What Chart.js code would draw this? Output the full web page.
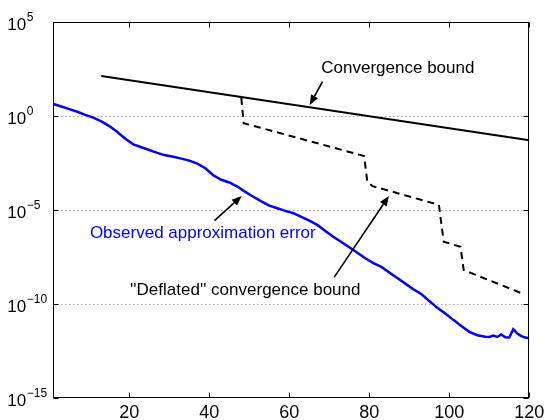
<!DOCTYPE html>
<html><head><meta charset="utf-8">
<script src="https://cdn.jsdelivr.net/npm/chart.js@4"></script>
<style>html,body{margin:0;padding:0;background:#fff}</style>
</head><body>
<canvas id="c" width="547" height="420"></canvas>
<script>
// ---- data ----
const errX = [1,3,5,7,9,11,13,15,17,19,21,23,25,27,29,31,33,35,37,39,41,43,45,47,49,51,53,55,57,59,61,63,65,67,69,71,73,75,77,79,81,83,85,87,89,91,93,95,97,99,101,103,105,107,109,110,111,112,113,114,115,116,117,118,119,120];
const errY = [4.17,3.09,2.24,1.62,1.10,0.79,0.50,0.28,0.135,0.060,0.030,0.021,0.015,0.0105,0.0078,0.0066,0.0052,0.0041,0.0028,0.0016,6.8e-4,3.9e-4,2.8e-4,1.7e-4,8.9e-5,4.9e-5,2.8e-5,1.66e-5,1.2e-5,8.7e-6,6.5e-6,4.1e-6,2.6e-6,1.55e-6,7.4e-7,3.6e-7,1.9e-7,1.0e-7,5.1e-8,2.6e-8,1.45e-8,9.1e-9,4.6e-9,2.3e-9,1.17e-9,5.9e-10,3.3e-10,1.38e-10,6.0e-11,3.0e-11,1.38e-11,6.6e-12,3.2e-12,2.1e-12,1.74e-12,1.7e-12,2.0e-12,1.7e-12,2.3e-12,1.62e-12,1.58e-12,4.4e-12,2.6e-12,1.9e-12,1.58e-12,1.45e-12];
const boundX = [13,120];
const boundY = [129,0.049];
const deflX = [48,48.6,78.7,79.5,80.8,97.4,98.6,102.8,103.6,118.2];
const deflY = [8.9,0.40,7.2e-3,3.1e-4,1.8e-4,1.8e-5,2.0e-7,1.07e-7,6.2e-9,3.5e-10];
const xTicks = [20,40,60,80,100,120];
const yTicks = [1e-15,1e-10,1e-5,1e0,1e5];
const yTickBase = '10';
const yTickExps = ['\u221215','\u221210','\u22125','0','5'];
const noteText = ['Convergence bound','Observed approximation error',"''Deflated'' convergence bound"];
const noteX = [68.0,10.15,20.2];
const noteY = [331,5.5e-7,4.9e-10];
const arrowFromX = [68.3,41.3,71.2];
const arrowFromY = [64.6,2.6e-6,2.5e-9];
const arrowToX = [65.1,48.1,84.9];
const arrowToY = [3.7,5.4e-5,5.4e-5];

const FONT = '"Liberation Sans", Arial, Helvetica, sans-serif';
const noteColor = ['#000000','#0000ff','#000000'];

const pts = (xs, ys) => xs.map((v,i)=>({x:v,y:ys[i]}));

const framePlugin = {
  id:'frame',
  beforeDatasetsDraw(chart){
    const {ctx, chartArea:a, scales:{x,y}} = chart;
    ctx.save();
    ctx.strokeStyle = '#8c8c8c'; ctx.lineWidth = 1; ctx.setLineDash([1,3]);
    yTicks.slice(1,-1).forEach(v=>{
      const py = Math.round(y.getPixelForValue(v)) + 0.5;
      ctx.beginPath(); ctx.moveTo(a.left, py); ctx.lineTo(a.right, py); ctx.stroke();
    });
    ctx.restore();
  },
  afterDatasetsDraw(chart){
    const {ctx, chartArea:a, scales:{x,y}} = chart;
    ctx.save();
    ctx.strokeStyle = '#000'; ctx.lineWidth = 1; ctx.setLineDash([]);
    const L = Math.round(a.left)+0.5, R = Math.round(a.right)-0.5, T = Math.round(a.top)+0.5, B = Math.round(a.bottom)-0.5;
    ctx.strokeRect(L, T, R-L, B-T);
    const tl = 5;
    ctx.beginPath();
    xTicks.forEach(v=>{
      const px = Math.round(x.getPixelForValue(v)) + 0.5;
      ctx.moveTo(px, B); ctx.lineTo(px, B-tl);
      ctx.moveTo(px, T); ctx.lineTo(px, T+tl);
    });
    yTicks.forEach(v=>{
      const py = Math.round(y.getPixelForValue(v)) + 0.5;
      ctx.moveTo(L, py); ctx.lineTo(L+tl, py);
      ctx.moveTo(R, py); ctx.lineTo(R-tl, py);
    });
    ctx.stroke();
    // y tick labels: 10 with superscript exponent
    ctx.fillStyle = '#000';
    ctx.textAlign = 'left'; ctx.textBaseline = 'alphabetic';
    yTicks.forEach((v,i)=>{
      const py = y.getPixelForValue(v);
      ctx.font = '17px ' + FONT;
      const bx = 7.3;
      ctx.fillText(yTickBase, bx, py + 8.3);
      const w = ctx.measureText(yTickBase).width;
      ctx.font = '12px ' + FONT;
      ctx.fillText(yTickExps[i], bx + w + 0.5, py - 1);
    });
    // annotations
    ctx.font = '17px ' + FONT;
    ctx.textAlign = 'left'; ctx.textBaseline = 'middle';
    noteText.forEach((t,i)=>{
      ctx.fillStyle = noteColor[i];
      ctx.fillText(t, x.getPixelForValue(noteX[i]), y.getPixelForValue(noteY[i]));
    });
    ctx.fillStyle = '#000'; ctx.strokeStyle = '#000'; ctx.lineWidth = 1.6;
    arrowFromX.forEach((fx,i)=>{
      const x0 = x.getPixelForValue(fx), y0 = y.getPixelForValue(arrowFromY[i]);
      const x1 = x.getPixelForValue(arrowToX[i]), y1 = y.getPixelForValue(arrowToY[i]);
      const ang = Math.atan2(y1-y0, x1-x0);
      const hl = 10, hw = 4;
      const bx = x1 - hl*Math.cos(ang), by = y1 - hl*Math.sin(ang);
      ctx.beginPath(); ctx.moveTo(x0,y0); ctx.lineTo(bx,by); ctx.stroke();
      ctx.beginPath();
      ctx.moveTo(x1,y1);
      ctx.lineTo(bx + hw*Math.sin(ang), by - hw*Math.cos(ang));
      ctx.lineTo(bx - hw*Math.sin(ang), by + hw*Math.cos(ang));
      ctx.closePath(); ctx.fill();
    });
    ctx.restore();
  }
};

new Chart(document.getElementById('c'), {
  type:'line',
  data:{
    datasets:[
      {label:'Observed approximation error', data:pts(errX,errY), borderColor:'#0000ff', borderWidth:2.5, pointRadius:0, tension:0, fill:false},
      {label:'Convergence bound', data:pts(boundX,boundY), borderColor:'#000000', borderWidth:2, pointRadius:0, tension:0, fill:false},
      {label:'Deflated convergence bound', data:pts(deflX,deflY), borderColor:'#000000', borderWidth:2, borderDash:[7,5], pointRadius:0, tension:0, fill:false}
    ]
  },
  options:{
    responsive:false, animation:false, devicePixelRatio:1,
    layout:{padding:{left:7, right:17.7, top:21.7, bottom:0}},
    plugins:{legend:{display:false}, tooltip:{enabled:false}},
    scales:{
      x:{
        type:'linear', min:1, max:120,
        afterBuildTicks(s){ s.ticks = xTicks.map(v=>({value:v})); },
        afterFit(s){ s.height = 22.3; },
        grid:{display:false}, border:{display:false},
        ticks:{color:'#000', font:{family:FONT, size:18}, padding:-3.5, maxRotation:0, autoSkip:false}
      },
      y:{
        type:'logarithmic', min:1e-15, max:1e5,
        afterBuildTicks(s){ s.ticks = yTicks.map(v=>({value:v})); },
        afterFit(s){ s.width = 46.3; },
        grid:{display:false}, border:{display:false},
        ticks:{display:false}
      }
    }
  },
  plugins:[framePlugin]
});
</script>
</body></html>
